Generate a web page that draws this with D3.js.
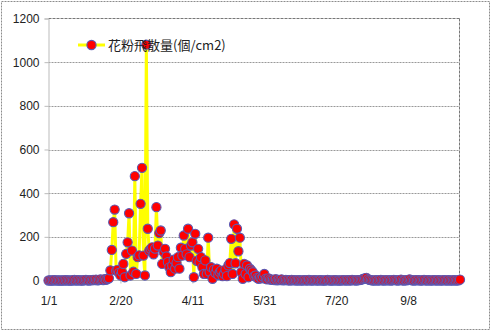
<!DOCTYPE html>
<html lang="ja">
<head>
	<meta charset="UTF-8">
	<script src="https://d3js.org/d3.v7.min.js"></script>
	<style>
	body{
		margin: 0;
		background-color: white;
		font-family: "Liberation Sans", Arial, sans-serif;
	}
	</style>
</head>
<body>
	<svg width="492" height="332"></svg>

	<script>
		// daily pollen counts, 1/1 onward (one value per day)
		let pollen = [
			0,1,0,0,2,1,0,1,0,0,
			1,0,2,0,1,0,0,1,3,0,
			1,2,0,1,0,2,3,1,0,2,
			1,3,2,4,1,2,5,3,2,6,
			3,8,10,46,140,267,325,45,49,35,
			23,40,76,15,122,175,308,23,137,40,
			478,30,107,115,351,516,114,23,1080,237,
			137,145,152,120,146,336,160,217,229,76,
			130,145,110,84,60,38,69,95,54,80,
			107,54,150,114,206,145,120,237,107,160,
			175,15,214,90,145,84,107,60,30,92,
			30,196,40,61,8,50,35,54,25,38,
			45,20,30,50,20,69,80,191,30,257,
			79,237,134,196,38,8,76,30,69,15,
			54,46,38,20,23,12,8,15,10,18,
			30,8,5,10,5,3,
			4,2,6,1,3,2,5,1,2,3,
			1,2,0,3,1,2,1,0,2,1,
			0,1,2,1,0,3,1,0,1,2,
			1,0,1,2,0,1,0,1,3,1,
			0,1,0,2,1,0,1,0,1,2,
			1,0,2,1,0,3,2,1,0,2,
			2,3,5,8,10,12,6,3,2,1,
			0,1,2,0,1,3,1,0,2,1,
			1,2,0,1,3,2,1,0,2,4,
			1,0,2,1,3,5,2,1,0,2,
			1,2,1,0,1,3,1,0,2,1,
			0,1,2,1,0,2,1,0,1,2,
			1,0,2,1,0,1,2,0,1,1,
			4
		]

		let tickDays = [0, 50, 100, 150, 200, 250]
		let tickLabels = ["1/1", "2/20", "4/11", "5/31", "7/20", "9/8"]
		let yTicks = [0, 200, 400, 600, 800, 1000, 1200]
		let seriesName = "花粉飛散量(個/cm2)"

		const svg = d3.select("svg")

		let plotLeft = 48.5, plotRight = 459.5, plotTop = 18.5, plotBottom = 280.5

		let x = d3.scaleLinear()
			.domain([0, pollen.length - 1])
			.range([plotLeft, 460])

		let y = d3.scaleLinear()
			.domain([0, 1200])
			.range([plotBottom, plotTop])

		// outer chart border
		svg.append("rect")
			.attr("x", 1.5).attr("y", 1.5)
			.attr("width", 488).attr("height", 328)
			.attr("fill", "white")
			.attr("stroke", "#8c8c8c")
			.attr("stroke-dasharray", "2,1")

		// gridlines
		svg.append("g")
			.selectAll("line")
			.data(yTicks.filter(function(d) { return d > 0 && d < 1200 }))
			.join("line")
			.attr("x1", plotLeft).attr("x2", plotRight)
			.attr("y1", function(d) { return Math.round(y(d)) + 0.5 })
			.attr("y2", function(d) { return Math.round(y(d)) + 0.5 })
			.attr("stroke", "#999")
			.attr("stroke-dasharray", "2,1")

		// plot frame: top + right darker, left + bottom light
		svg.append("line")
			.attr("x1", plotLeft).attr("x2", plotRight).attr("y1", plotTop).attr("y2", plotTop)
			.attr("stroke", "#777").attr("stroke-dasharray", "3,1")
		svg.append("line")
			.attr("x1", plotRight).attr("x2", plotRight).attr("y1", plotTop).attr("y2", plotBottom)
			.attr("stroke", "#777").attr("stroke-dasharray", "3,1")

		let yAxis = svg.append("g")
			.attr("transform", "translate(" + plotLeft + ",0)")
			.call(d3.axisLeft(y).tickValues(yTicks).tickFormat(d3.format("d")).tickSize(4).tickPadding(5))
		yAxis.select(".domain").attr("stroke", "#bbb")
		yAxis.selectAll(".tick line").attr("stroke", "#bbb")
		yAxis.selectAll("text")
			.style("font-size", "12px")
			.style("font-family", "'Liberation Sans', Arial, sans-serif")
			.attr("fill", "#222")

		let xAxis = svg.append("g")
			.attr("transform", "translate(0," + plotBottom + ")")
			.call(d3.axisBottom(x)
				.tickValues(tickDays)
				.tickFormat(function(d, i) { return tickLabels[i] })
				.tickSizeInner(3).tickSizeOuter(0).tickPadding(13))
		xAxis.select(".domain").attr("stroke", "#bbb").attr("d", "M" + plotLeft + ",0H" + plotRight)
		xAxis.selectAll(".tick line").attr("stroke", "#bbb").attr("y1", -3).attr("y2", 3)
		xAxis.selectAll("text")
			.style("font-size", "12px")
			.style("font-family", "'Liberation Sans', Arial, sans-serif")
			.attr("fill", "#222")

		let line = d3.line()
			.x(function(d, i) { return x(i) })
			.y(function(d) { return y(d) })

		svg.append("path")
			.datum(pollen)
			.attr("d", line)
			.attr("fill", "none")
			.attr("stroke", "#ffff00")
			.attr("stroke-width", 3)
			.attr("stroke-linejoin", "round")

		svg.append("g")
			.selectAll("circle")
			.data(pollen)
			.join("circle")
			.attr("cx", function(d, i) { return x(i) })
			.attr("cy", function(d) { return y(d) })
			.attr("r", 4.6)
			.attr("fill", "#ff0000")
			.attr("stroke", "#5a5ab4")
			.attr("stroke-width", 1.1)

		// legend
		let legend = svg.append("g").attr("transform", "translate(78,45)")
		legend.append("line")
			.attr("x1", 0).attr("x2", 27).attr("y1", 0).attr("y2", 0)
			.attr("stroke", "#ffff00").attr("stroke-width", 3)
		legend.append("circle")
			.attr("cx", 13.5).attr("cy", 0).attr("r", 4.6)
			.attr("fill", "#ff0000").attr("stroke", "#5a5ab4").attr("stroke-width", 1.1)
		legend.append("text")
			.attr("x", 30).attr("y", 5)
			.style("font-size", "13px")
			.style("font-family", "'Noto Sans CJK JP', sans-serif")
			.attr("fill", "#222")
			.text(seriesName)
	</script>
</body>
</html>
